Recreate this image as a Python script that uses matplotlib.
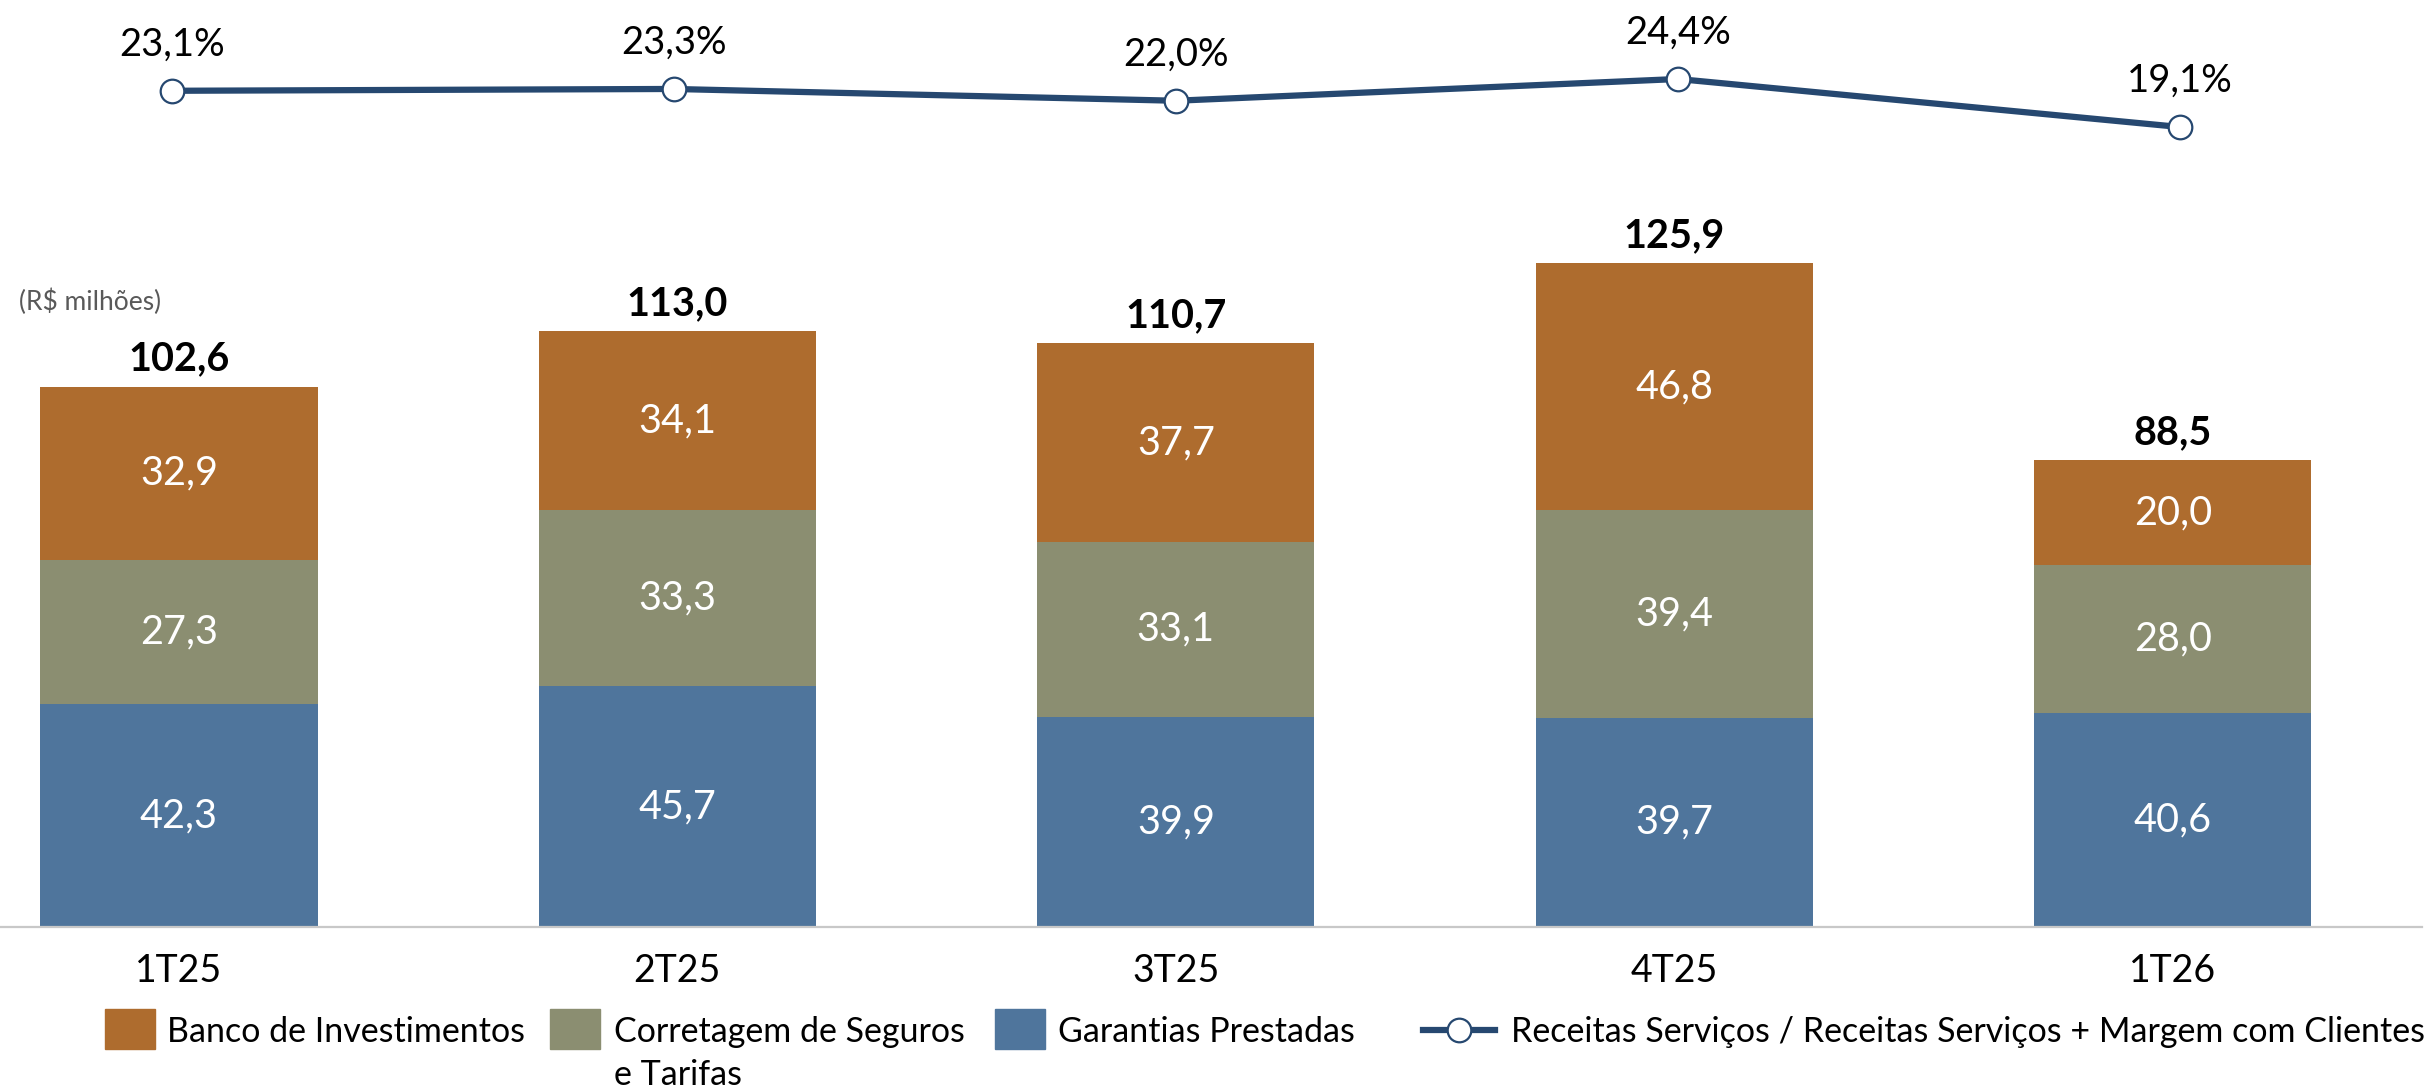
import matplotlib
matplotlib.use("Agg")
import matplotlib.pyplot as plt
from matplotlib.patches import Rectangle
from matplotlib.lines import Line2D
import numpy as np

plt.rcParams['font.family'] = ['Lato', 'DejaVu Sans']

# ---- data ----
quarters = ["1T25", "2T25", "3T25", "4T25", "1T26"]
garantias = [42.3, 45.7, 39.9, 39.7, 40.6]
corretagem = [27.3, 33.3, 33.1, 39.4, 28.0]
banco = [32.9, 34.1, 37.7, 46.8, 20.0]
totals = [102.6, 113.0, 110.7, 125.9, 88.5]
ratio = [23.1, 23.3, 22.0, 24.4, 19.1]

labels_series = ["Banco de Investimentos", "Corretagem de Seguros\ne Tarifas",
                 "Garantias Prestadas",
                 "Receitas Serviços / Receitas Serviços + Margem com Clientes"]

c_banco = "#AE6C2E"
c_corr = "#8B8E71"
c_gar = "#4F759C"
c_line = "#264870"

W, H = 2430, 1091
fig = plt.figure(figsize=(W / 100, H / 100), dpi=100)

def fx(px):
    return px / W

def fy(py):
    return 1 - py / H

base_px = 927
rect = [0, fy(base_px), 2422 / W, base_px / H]
ax = fig.add_axes(rect)
ax2 = fig.add_axes(rect, facecolor="none")

x = np.arange(len(quarters))
bw = 0.556

def fmt(v):
    return f"{v:.1f}".replace(".", ",")

b1 = ax.bar(x, garantias, bw, color=c_gar, zorder=2)
bottom2 = np.array(garantias)
b2 = ax.bar(x, corretagem, bw, bottom=bottom2, color=c_corr, zorder=2)
bottom3 = bottom2 + np.array(corretagem)
b3 = ax.bar(x, banco, bw, bottom=bottom3, color=c_banco, zorder=2)

for bars, vals, bots in [(b1, garantias, np.zeros(5)), (b2, corretagem, bottom2), (b3, banco, bottom3)]:
    for xi, v, b in zip(x, vals, bots):
        ax.text(xi, b + v / 2, fmt(v), ha="center", va="center",
                color="white", fontsize=28.5)

for xi, t in zip(x, totals):
    ax.annotate(fmt(t), (xi, t), xytext=(0, 11.5), textcoords="offset points",
                ha="center", va="baseline", fontsize=28.5, fontweight="bold",
                color="black")

xlim = np.array([-0.359, 4.5])
ax.set_xlim(*xlim)
ax.set_ylim(0, base_px / 5.273)
ax.set_xticks(x, quarters)
ax.tick_params(axis="x", length=0, pad=19, labelsize=27)
ax.tick_params(axis="y", left=False, labelleft=False)
for s in ["top", "right", "left"]:
    ax.spines[s].set_visible(False)
ax.spines["bottom"].set_color("#C8C8C8")
ax.spines["bottom"].set_linewidth(1.6)

# line on its own overlay axis (slightly wider category spacing)
ax2.plot(x, ratio, color=c_line, lw=4.5, marker="o", ms=17,
         mfc="white", mec=c_line, mew=1.6, zorder=3)
for xi, r in zip(x, ratio):
    ax2.annotate(fmt(r) + "%", (xi, r), xytext=(0, 25.2), textcoords="offset points",
                 ha="center", va="baseline", fontsize=27.5, color="black")
ax2.set_xlim(*(2 + (xlim - 2) / 1.0072))
top_v = 24.4 + 79 / 9.06
ax2.set_ylim(top_v - base_px / 9.06, top_v)
ax2.axis("off")

fig.text(fx(19), fy(302), "(R$ milhões)", ha="left", va="center",
         fontsize=19, color="#595959")

# legend (manual)
text_base = fy(1042)
line2_base = fy(1085)
patch_h = 40
for (px0, tx), col, lab in zip([(105, 167), (550, 614), (995, 1058)],
                               [c_banco, c_corr, c_gar], labels_series[:3]):
    fig.add_artist(Rectangle((fx(px0), fy(1049)), 50 / W, patch_h / H,
                             transform=fig.transFigure, color=col))
    lines = lab.split("\n")
    fig.text(fx(tx), text_base, lines[0], ha="left", va="baseline", fontsize=24.5)
    if len(lines) > 1:
        fig.text(fx(tx), line2_base, lines[1], ha="left", va="baseline", fontsize=24.5)
fig.add_artist(Line2D([fx(1423), fx(1495)], [fy(1030), fy(1030)],
                      transform=fig.transFigure, color=c_line, lw=4.5))
fig.add_artist(Line2D([fx(1459)], [fy(1030)], transform=fig.transFigure,
                      color=c_line, marker="o", ms=17, mfc="white",
                      mec=c_line, mew=1.6, lw=0))
fig.text(fx(1511), text_base, labels_series[3], ha="left", va="baseline", fontsize=24.5)

fig.savefig("out.png", dpi=100)
